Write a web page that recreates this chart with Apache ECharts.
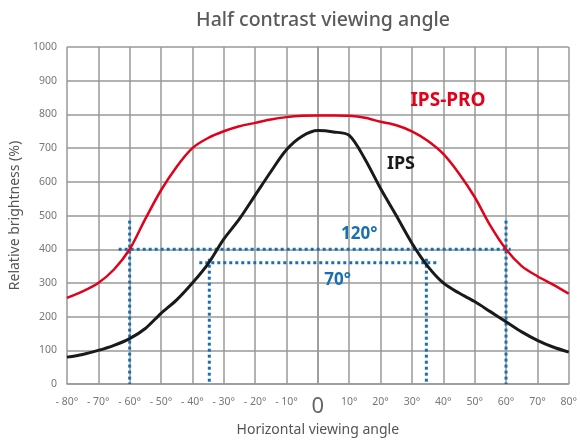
<!DOCTYPE html>
<html><head><meta charset="utf-8">
<script src="https://cdn.jsdelivr.net/npm/echarts@6/dist/echarts.min.js"></script>
<style>html,body{margin:0;padding:0;background:#fff}#c{width:580px;height:442px}</style>
</head><body><div id="c"></div>
<script>
const angles = [-80,-75,-70,-65,-60,-55,-50,-45,-40,-35,-30,-25,-20,-15,-10,-5,0,5,10,15,20,25,30,35,40,45,50,55,60,65,70,75,80];
const ipsPro = [256,275,300,340,400,490,575,645,700,730,750,765,775,785,792,796,797,797,796,790,778,768,750,722,683,625,555,470,400,350,320,295,268];
const ips = [80,88,100,115,135,165,210,250,300,357,430,490,560,630,695,735,752,748,738,668,580,500,418,350,300,270,245,215,185,155,130,110,95];
const yTicks = [0,100,200,300,400,500,600,700,800,900,1000];
// guide lines [x, y]
const guide120 = [[-63.5,400],[61.5,400]];
const guide120L = [[-60,485],[-60,0]];
const guide120R = [[60,485],[60,0]];
const guide70 = [[-37.8,360],[38.4,360]];
const guide70L = [[-34.6,372],[-34.6,0]];
const guide70R = [[34.6,372],[34.6,0]];
const annotations = [
  {name:'IPS-PRO', value:[41.5,842], color:'#e2001a'},
  {name:'IPS', value:[26.5,653], color:'#1a1a1a'},
  {name:'120°', value:[13.2,444], color:'#1a6fb0'},
  {name:'70°', value:[6.3,309], color:'#1a6fb0'}
];
const blue = '#1a6fb0';
function guide(d){
  return {type:'line', data:d, symbol:'none', silent:true, z:3,
    lineStyle:{color:blue, width:3, type:[3,3]}};
}
const chart = echarts.init(document.getElementById('c'));
chart.setOption({
  animation:false,
  title:{text:'Half contrast viewing angle', left:318, textAlign:'center', top:5,
    textStyle:{fontFamily:'Noto Sans', fontSize:19.5, fontWeight:500, color:'#5a5a5a'}},
  grid:{left:64, right:8, top:47, bottom:56},
  xAxis:{type:'value', min:-80, max:80, interval:10,
    axisLine:{show:true, onZero:false, lineStyle:{color:'#999', width:1.5}},
    axisTick:{show:false},
    splitLine:{show:true, lineStyle:{color:'#999', width:1.5}},
    axisLabel:{margin:12, color:'#777', fontFamily:'Noto Sans', fontSize:10.5,
      formatter:function(v){ if(v===0) return '{z|0}'; return v<0 ? '- '+(-v)+'°' : v+'°'; },
      rich:{z:{fontSize:22, color:'#666', fontFamily:'Noto Sans', padding:[0,0,4,0]}}},
    name:'Horizontal viewing angle', nameLocation:'middle', nameGap:38,
    nameTextStyle:{fontFamily:'Noto Sans', fontSize:14, color:'#555'}},
  yAxis:{type:'value', min:0, max:1000, interval:100,
    axisLine:{show:true, lineStyle:{color:'#999', width:1.5}},
    axisTick:{show:false},
    splitLine:{show:true, lineStyle:{color:'#999', width:1.5}},
    axisLabel:{margin:10, color:'#777', fontFamily:'Noto Sans', fontSize:10.5,
      formatter:function(v){ return yTicks.indexOf(v)>=0 ? String(v) : ''; }},
    name:'Relative brightness (%)', nameLocation:'middle', nameGap:44, nameRotate:90,
    nameTextStyle:{fontFamily:'Noto Sans', fontSize:14, color:'#555'}},
  series:[
    {type:'line', name:'IPS-PRO', data:angles.map((a,i)=>[a,ipsPro[i]]), symbol:'none', smooth:0.3, z:4,
      lineStyle:{color:'#e2001a', width:2.5}},
    {type:'line', name:'IPS', data:angles.map((a,i)=>[a,ips[i]]), symbol:'none', smooth:0.3, z:4,
      lineStyle:{color:'#1a1a1a', width:3}},
    guide(guide120), guide(guide120L), guide(guide120R),
    guide(guide70), guide(guide70L), guide(guide70R),
    {type:'scatter', symbolSize:0, z:6, silent:true, itemStyle:{opacity:1},
      data:annotations.map(a=>({name:a.name, value:a.value,
        label:{show:true, position:'inside', formatter:a.name, color:a.color, opacity:1,
          fontFamily:'Noto Sans', fontWeight:'bold', fontSize:(a.name.indexOf('°')>=0?17:(a.name==='IPS'?18:19))}}))}
  ]
});
</script>
</body></html>
